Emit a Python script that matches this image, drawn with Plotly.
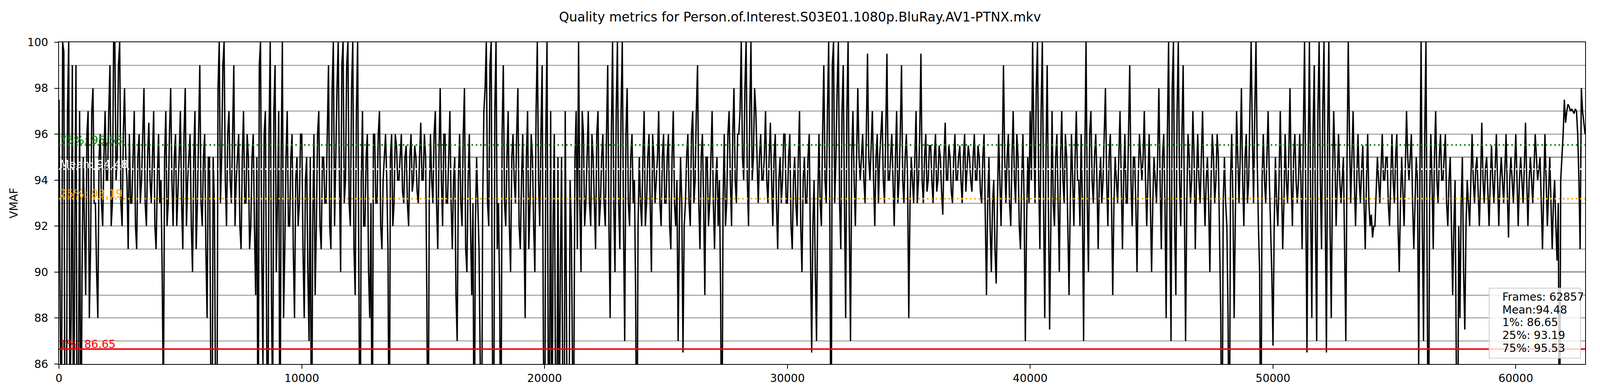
import plotly.graph_objects as go

# VMAF per frame: one list per 10000 frames at frame 0,100,200,...
# and a second set at the in-between frames 50,150,250,... (80 = dips below the axis floor)
frame_step = 100
total_frames = 62857

vmaf_00k = [97.5, 82, 99.6, 80, 100, 88, 80, 99, 84, 80,
            95, 89, 97, 91, 98, 93, 88, 96, 92, 97,
            94, 99, 93, 100, 95, 100, 92, 98, 94, 96,
            93, 97, 91, 96, 94, 98, 92, 96.5, 93, 97,
            91, 96, 94, 84, 97, 93, 98, 92, 96, 93.5,
            97, 91, 98, 94, 96, 90, 97, 93, 99, 92,
            96, 88, 95, 80, 93, 80, 100, 95, 100, 92,
            97, 93, 99, 94, 96, 91, 97, 93, 95, 92,
            96, 89, 80, 100, 86, 97, 80, 100, 84, 99,
            93, 80, 100, 91, 97, 92, 96, 88, 95, 93]
vmaf_10k = [96, 88, 95, 87, 80, 96, 92, 97, 91, 95,
            93, 99, 91, 100, 95, 100, 90, 100, 94, 100,
            92, 100, 89, 100, 80, 97, 92, 96, 88, 80,
            96, 93, 97, 91, 95, 94, 80, 96, 93, 95.5,
            94, 96, 93, 95.5, 92, 96, 94, 95, 93, 96.5,
            94, 95, 80, 96, 93, 97, 91, 98, 92, 96,
            93, 97, 91, 95, 87, 96, 92, 98, 90, 96,
            89, 80, 95, 91, 80, 97, 100, 92, 100, 80,
            100, 93, 80, 99, 92, 97, 90, 96, 93, 98,
            91, 96, 88, 97, 93, 95, 90, 100, 92, 99]
vmaf_20k = [80, 100, 84, 80, 96, 80, 82, 95, 80, 88,
            80, 92, 84, 97, 100, 90, 96, 93, 97, 92,
            95, 91, 97, 93, 96, 92, 99, 88, 100, 90,
            100, 91, 100, 87, 98, 92, 96, 94, 80, 95,
            92, 97, 93, 96, 90, 95, 94, 97, 92, 96,
            93, 96, 91, 97, 92, 87, 95, 86.5, 93, 96,
            92, 97, 94, 99, 91, 96, 89, 95, 93, 97,
            91, 95, 94, 80, 96, 93, 97, 92, 98, 93,
            96, 100, 94, 100, 92, 100, 95, 97, 93, 96,
            94, 97, 93, 96.5, 92, 96, 91, 95, 94, 96]
vmaf_30k = [93, 96, 91, 95, 92, 97, 90, 95, 93, 96,
            86.5, 94, 87, 96, 92, 99, 93, 100, 80, 100,
            95, 100, 91, 99, 88, 100, 87, 97, 92, 98,
            94, 96, 93, 99.5, 94, 97, 92, 96, 95, 97,
            93, 99.5, 94, 96, 92, 97, 94, 99, 93, 96,
            88, 95, 93, 97, 94, 99.5, 93, 96, 94, 95.5,
            93, 96, 94, 95, 92.5, 96.5, 94, 95, 93, 96,
            94, 95.5, 93, 96, 94.5, 95, 93.5, 96, 94, 95,
            93, 96, 89, 95, 90, 94, 89.5, 96, 92, 99,
            93, 96, 92, 97, 93, 95, 91, 96, 87, 95]
vmaf_40k = [97, 100, 93, 100, 91, 100, 88, 99, 87.5, 97,
            92, 96, 90, 97, 93, 95, 89, 96, 92, 97,
            94, 96, 87, 100, 90, 97, 93, 96, 91, 95,
            94, 98, 92, 96, 89, 95, 93, 97, 91, 96,
            93, 99, 92, 95, 90, 96, 94, 97, 92, 96,
            90, 95, 93, 98, 91, 96, 88, 100, 87, 100,
            89, 100, 92, 99, 87, 96, 93, 97, 91, 96,
            93, 97, 92, 95, 90, 96, 93, 96, 91, 80,
            95, 92, 80, 96, 88, 97, 93, 98, 92, 96,
            94, 100, 93, 100, 92, 80, 96, 93, 97, 92]
vmaf_50k = [86.8, 95, 92, 97, 91, 96, 93, 98, 92, 96,
            93, 96, 91, 100, 86.5, 100, 88, 99, 87, 100,
            91, 100, 86.5, 100, 88, 97, 92, 96, 93, 95,
            87, 100, 93, 97, 92, 96, 93, 95.5, 91, 96,
            92, 91.5, 92, 95, 93, 96, 94, 95, 92, 96,
            93, 96, 90, 95, 92, 97, 94, 96, 91, 95,
            86, 100, 87, 100, 80, 96, 91, 97, 93, 96,
            94, 96, 92, 95, 89, 94, 80, 88, 95, 87.5,
            94, 92, 96, 93, 95, 92, 96.5, 93, 95, 92,
            95.5, 93, 96, 92, 95, 93, 96, 91.5, 95, 93]
vmaf_60k = [96, 92, 95, 93, 96.5, 92, 95, 93, 96, 94,
            95, 91, 96, 92, 95, 91, 94, 90.5, 80, 95,
            97.5, 97, 97.2, 97.1, 96.9, 97, 94, 98, 96.5]

half_00k = [88, 100, 80, 97, 84, 99, 92, 80, 97, 90,
            92, 96, 88, 97, 93, 90, 95, 93, 95, 94,
            97, 92, 100, 94, 99, 93, 96, 95, 91, 93,
            95, 92, 95, 93, 96, 93, 95, 94, 95, 92,
            94, 93, 90, 95, 92, 96, 94, 95, 92, 95,
            93, 96, 92, 95, 92, 95, 91, 96, 93, 95,
            91, 95, 86, 95, 84, 98, 93, 99, 94, 96,
            94, 96, 92, 95, 92, 95, 93, 96, 91, 95,
            92, 95, 99, 91, 96, 88, 96, 89, 97, 90,
            97, 95, 88, 95, 92, 95, 91, 94, 92, 96]
half_10k = [91, 94, 90, 95, 92, 89, 96, 92, 95, 93,
            96, 92, 98, 92, 98, 94, 99, 93, 99, 93,
            98, 91, 97, 90, 94, 92, 95, 90, 93, 96,
            93, 96, 92, 94, 96, 91, 95, 92, 96, 94,
            95, 93.5, 95, 93, 95, 93.5, 95.5, 93.5, 95, 94,
            96, 89, 93, 94, 96, 93, 95, 94, 96, 93,
            95, 93, 94, 89, 94, 93, 96, 91, 94, 92,
            93, 92, 93, 86, 93, 98, 93, 99, 87, 97,
            91, 89, 96, 93, 95, 92, 95, 94, 96, 92,
            94, 92, 95, 91, 96, 92, 97, 94, 96, 87]
half_20k = [96, 86, 97, 92, 85, 95, 90, 84, 97, 80,
            94, 86, 95, 91, 93, 97, 92, 95, 93, 96,
            93, 96, 92, 95, 93, 96, 92, 96, 93, 97,
            93, 97, 92, 96, 93, 95, 93, 89, 92, 93,
            95, 92, 95, 93, 96, 93, 95, 93, 95, 93,
            95, 92, 95, 93, 94, 92, 93, 92, 95, 93,
            96, 93, 97, 93, 95, 93, 95, 92, 95, 93,
            94, 92, 89, 93, 92, 96, 94, 96, 94, 96,
            97, 95, 98, 94, 97, 94, 98, 95, 95, 94,
            95, 94, 95, 94, 95, 93, 94, 93, 96, 93]
half_30k = [95, 92, 94, 93, 95, 92, 94, 93, 95, 91,
            92, 90, 93, 93, 96, 94, 97, 92, 99, 93,
            98, 93, 97, 93, 97, 92, 95, 94, 95, 95,
            95, 94, 96, 95, 95.5, 94, 95, 93, 96, 94,
            96, 94, 95, 94, 95, 93, 96, 94, 95, 94,
            93, 94, 95, 93, 96, 94, 95, 93.5, 95.5, 94,
            95, 93.5, 95.5, 93.5, 95, 94, 95.5, 93.5, 95, 94,
            95, 94, 95, 93.5, 95.5, 94, 95, 94, 95.5, 93.5,
            95, 92, 93, 92, 93, 91, 93, 94, 95, 95,
            95, 93, 95, 94, 96, 92, 94, 93, 92, 93]
half_40k = [94, 96, 98, 94, 97, 93, 95, 93, 92, 93,
            95, 93, 95, 94, 96, 92, 93, 94, 95, 94,
            92, 93, 95, 93, 96, 94, 95, 94, 94, 93,
            96, 94, 95, 93, 93, 94, 95, 94, 94, 93,
            96, 94, 95, 93, 94, 95, 95, 94, 94, 93,
            93, 94, 95, 94, 95, 93, 96, 93, 98, 92,
            97, 94, 96, 93, 93, 95, 94, 95, 94, 94,
            95, 94, 94, 93, 94, 95, 94, 95, 88, 93,
            93, 88, 94, 93, 93, 95, 95, 94, 95, 93,
            97, 96, 97, 95, 90, 94, 94, 95, 94, 90]
half_50k = [92, 93, 94, 94, 93, 94, 95, 94, 95, 94,
            94, 94, 96, 93, 95, 93, 96, 92, 97, 94,
            97, 93, 96, 92, 94, 95, 94, 94, 94, 91,
            95, 96, 95, 94, 94, 94, 94.5, 93, 94, 93,
            92.5, 92, 93.5, 94, 94.5, 94, 95, 93, 94, 94,
            95, 92, 93, 93.5, 94.5, 95, 95, 93, 93, 94,
            94, 92, 96, 90, 93, 94, 95, 94, 95, 94,
            95, 93, 94, 92, 92, 86, 92, 93, 90, 92,
            93, 94, 94, 94.5, 93.5, 94, 94, 94.5, 93.5, 94,
            94, 94.5, 94, 94, 94, 94.5, 93.5, 94, 94, 94.5]
half_60k = [94, 94, 94, 94.5, 94, 94, 94, 94.5, 95, 94.5,
            93, 93.5, 94, 93.5, 93, 93, 92, 93, 94, 96,
            96.5, 97.3, 97, 97, 97.1, 96, 91, 97, 96]
vmaf_last = 96.0

stats_mean = 94.48
stats_p1 = 86.65
stats_p25 = 93.19
stats_p75 = 95.53

title_text = "Quality metrics for Person.of.Interest.S03E01.1080p.BluRay.AV1-PTNX.mkv"

main = vmaf_00k + vmaf_10k + vmaf_20k + vmaf_30k + vmaf_40k + vmaf_50k + vmaf_60k
half = half_00k + half_10k + half_20k + half_30k + half_40k + half_50k + half_60k
frames, vmaf = [], []
for i, v in enumerate(main):
    frames.append(i * frame_step)
    vmaf.append(v)
    if i < len(half):
        frames.append(i * frame_step + frame_step // 2)
        vmaf.append(half[i])
frames.append(total_frames - 1)
vmaf.append(vmaf_last)

FONT = "DejaVu Sans"

fig = go.Figure()
fig.add_trace(go.Scatter(x=frames, y=vmaf, mode="lines",
                         line=dict(color="black", width=3.5),
                         showlegend=False, hoverinfo="skip"))

shapes = []
# black reference lines at 90 / 95
for yv in (90, 95):
    shapes.append(dict(type="line", xref="paper", x0=0, x1=1, y0=yv, y1=yv,
                       line=dict(color="black", width=2.5), layer="between"))
# percentile / mean lines
shapes.append(dict(type="line", xref="paper", x0=0, x1=1, y0=stats_p75, y1=stats_p75,
                   line=dict(color="green", width=4, dash="4px,7px"), layer="above"))
shapes.append(dict(type="line", xref="paper", x0=0, x1=1, y0=stats_mean, y1=stats_mean,
                   line=dict(color="white", width=4, dash="4px,7px"), layer="above"))
shapes.append(dict(type="line", xref="paper", x0=0, x1=1, y0=stats_p25, y1=stats_p25,
                   line=dict(color="orange", width=4, dash="4px,7px"), layer="above"))
shapes.append(dict(type="line", xref="paper", x0=0, x1=1, y0=stats_p1, y1=stats_p1,
                   line=dict(color="red", width=4), layer="above"))
# legend box
shapes.append(dict(type="rect", xref="paper", yref="paper",
                   x0=0.9371, x1=0.9969, y0=0.0182, y1=0.2357,
                   fillcolor="rgba(255,255,255,0.8)",
                   line=dict(color="#cccccc", width=2), layer="above"))

annotations = []
labels = [("75%: {:.2f}".format(stats_p75), stats_p75, "green"),
          ("Mean: {:.2f}".format(stats_mean), stats_mean, "white"),
          ("25%: {:.2f}".format(stats_p25), stats_p25, "orange"),
          ("1%: {:.2f}".format(stats_p1), stats_p1, "red")]
for txt, yv, col in labels:
    annotations.append(dict(x=0, y=yv, xref="x", yref="y", text=txt, showarrow=False,
                            xanchor="left", yanchor="bottom", yshift=-6,
                            font=dict(family=FONT, size=28, color=col)))

legend_lines = ["Frames: {}".format(total_frames),
                "Mean:{:.2f}".format(stats_mean),
                "1%: {:.2f}".format(stats_p1),
                "25%: {:.2f}".format(stats_p25),
                "75%: {:.2f}".format(stats_p75)]
legend_y = [0.2078, 0.1677, 0.1288, 0.0887, 0.0498]
for txt, yp in zip(legend_lines, legend_y):
    annotations.append(dict(x=0.9451, y=yp, xref="paper", yref="paper", text=txt,
                            showarrow=False, xanchor="left", yanchor="middle",
                            font=dict(family=FONT, size=28, color="black")))

# width follows the browser window; height fixed
fig.update_layout(
    autosize=True, height=1000,
    margin=dict(l=143, r=30, t=100, b=77),
    paper_bgcolor="white", plot_bgcolor="white",
    font=dict(family=FONT, size=28, color="black"),
    title=dict(text=title_text, x=0.5, xanchor="center", y=0.965, yanchor="middle",
               yref="container", font=dict(family=FONT, size=33, color="black")),
    shapes=shapes, annotations=annotations, showlegend=False,
)
fig.update_xaxes(range=[0, total_frames], tickvals=[0, 10000, 20000, 30000, 40000, 50000, 60000],
                 tickformat="d",
                 showgrid=False, zeroline=False, showline=True, linecolor="black", linewidth=2,
                 mirror=True, ticks="outside", ticklen=10, tickwidth=2, tickcolor="black",
                 tickfont=dict(family=FONT, size=28), automargin=False)
fig.update_yaxes(range=[86, 100], dtick=2, tick0=86,
                 showgrid=True, gridcolor="#8a8a8a", gridwidth=1.5,
                 minor=dict(dtick=1, tick0=86, showgrid=True, gridcolor="#8a8a8a", gridwidth=1.5),
                 zeroline=False, showline=True, linecolor="black", linewidth=2, mirror=True,
                 ticks="outside", ticklen=10, tickwidth=2, tickcolor="black",
                 ticklabelstandoff=10,
                 tickfont=dict(family=FONT, size=28),
                 title=dict(text="VMAF", standoff=16, font=dict(family=FONT, size=28)),
                 automargin=False)

fig.write_html("out.html")
